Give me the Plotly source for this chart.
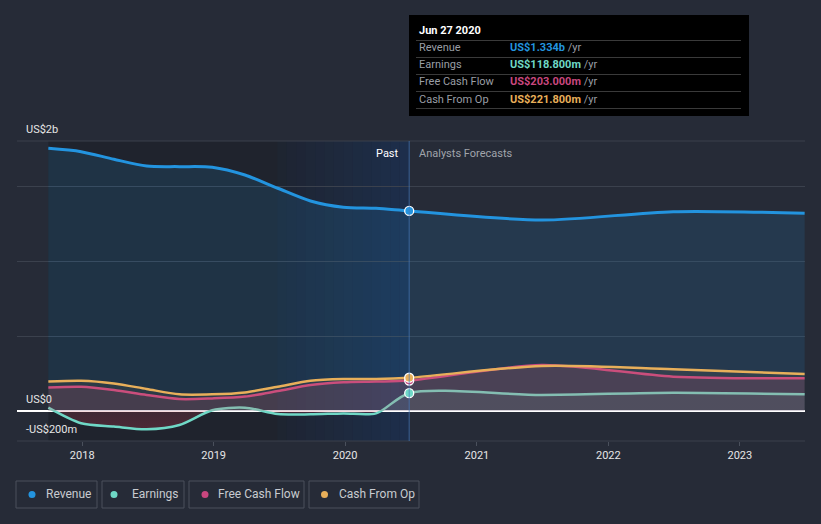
import plotly.graph_objects as go
import pandas as pd

# ---------------- data ----------------
past_dates = ["2017-09-29", "2017-12-29", "2018-03-30", "2018-06-29", "2018-09-28", "2018-12-28",
              "2019-03-29", "2019-06-28", "2019-09-27", "2019-12-27", "2020-03-27", "2020-06-27"]
forecast_dates = ["2020-06-27", "2021-06-30", "2022-06-30", "2023-06-30"]

revenue_past = [1.751, 1.729, 1.678, 1.633, 1.629, 1.625, 1.573, 1.485, 1.400, 1.358, 1.351, 1.334]
revenue_fc = [1.334, 1.273, 1.329, 1.318]
earnings_past = [0.022, -0.082, -0.104, -0.122, -0.093, 0.005, 0.022, -0.020, -0.022, -0.016, -0.016, 0.1188]
earnings_fc = [0.1188, 0.107, 0.122, 0.111]
fcf_past = [0.156, 0.162, 0.140, 0.107, 0.080, 0.084, 0.096, 0.133, 0.173, 0.191, 0.196, 0.203]
fcf_fc = [0.203, 0.307, 0.229, 0.218]
cfo_past = [0.196, 0.202, 0.184, 0.147, 0.111, 0.111, 0.124, 0.162, 0.202, 0.213, 0.213, 0.2218]
cfo_fc = [0.2218, 0.300, 0.278, 0.247]

series_names = ["Revenue", "Earnings", "Free Cash Flow", "Cash From Op"]
series_colors = ["#2394df", "#6fd8c6", "#c9477f", "#e8af5a"]
tooltip_values = ["US$1.334b", "US$118.800m", "US$203.000m", "US$221.800m"]
tooltip_date = "Jun 27 2020"

y_tick_values = [-0.2, 0, 1.8]
y_tick_labels = ["-US$200m", "US$0", "US$2b"]
y_grid_values = [-0.2, 0, 0.5, 1.0, 1.5, 1.8]

highlight_start = "2019-06-27"
x_range = ["2017-07-04", "2023-07-01"]

# ---------------- layout helpers ----------------
W, H = 821, 524
ML, MR, MT, MB = 17, 16, 141, 83
PW, PH = W - ML - MR, H - MT - MB


def px_x(px):
    return (px - ML) / PW


def px_y(py):
    return (H - MB - py) / PH


BG = "#262b37"
GRID = "#3b414d"
FONT = "Roboto"

fig = go.Figure()

all_dates = past_dates + forecast_dates[1:]
series = [
    (revenue_past + revenue_fc[1:], "rgba(35,148,223,0.14)", 3),
    (earnings_past + earnings_fc[1:], None, 2.5),
    (fcf_past + fcf_fc[1:], "rgba(201,71,127,0.16)", 2.5),
    (cfo_past + cfo_fc[1:], "rgba(232,175,90,0.07)", 2.5),
]

for i, (vals, fillc, w) in enumerate(series):
    kw = dict(fill="tozeroy")
    if fillc is None:
        kw["fillgradient"] = dict(
            type="vertical", start=-0.2, stop=0.15,
            colorscale=[[0, "rgba(210,60,80,0.30)"], [0.57, "rgba(210,60,80,0.18)"],
                        [0.58, "rgba(111,216,198,0.10)"], [1, "rgba(111,216,198,0.10)"]])
    else:
        kw["fillcolor"] = fillc
    fig.add_trace(go.Scatter(
        x=all_dates, y=vals, mode="lines", name=series_names[i],
        line=dict(color=series_colors[i], width=w, shape="spline", smoothing=0.8),
        hoverinfo="skip", showlegend=False, **kw))

# markers at the tooltip date
for i, (vals, _, _) in enumerate(series):
    fig.add_trace(go.Scatter(
        x=[past_dates[-1]], y=[vals[len(past_dates) - 1]], mode="markers",
        marker=dict(color=series_colors[i], size=9, line=dict(color="white", width=1.3)),
        hoverinfo="skip", showlegend=False))

shapes = []
# dark past region
shapes.append(dict(type="rect", xref="x", yref="paper", x0=past_dates[0], x1=past_dates[-1],
                   y0=0, y1=1, fillcolor="rgba(0,0,0,0.17)", line=dict(width=0), layer="below"))
# blue gradient for last 12 months
t0 = pd.Timestamp(highlight_start)
t1 = pd.Timestamp(past_dates[-1])
n = 14
for k in range(n):
    a = t0 + (t1 - t0) * k / n
    b = t0 + (t1 - t0) * (k + 1) / n
    shapes.append(dict(type="rect", xref="x", yref="paper", x0=a, x1=b, y0=0, y1=1,
                       fillcolor=f"rgba(25,75,150,{0.04 + 0.26 * (k + 0.5) / n:.3f})",
                       line=dict(width=0), layer="below"))
# top / bottom grid lines at the range edges
for yv in (0, 1):
    shapes.append(dict(type="line", xref="paper", yref="paper", x0=0, x1=1, y0=yv, y1=yv,
                       line=dict(color=GRID, width=1), layer="below"))
# vertical line at the present
shapes.append(dict(type="line", xref="x", yref="paper", x0=past_dates[-1], x1=past_dates[-1],
                   y0=0, y1=1, line=dict(color="rgba(70,120,190,0.7)", width=1)))

# tooltip box
shapes.append(dict(type="rect", xref="paper", yref="paper", x0=px_x(409), x1=px_x(749),
                   y0=px_y(116), y1=px_y(15), fillcolor="#000000", line=dict(width=0), layer="above"))
for sy in [40.5, 57.5, 74.5, 91.5, 108.5]:
    shapes.append(dict(type="line", xref="paper", yref="paper", x0=px_x(416), x1=px_x(741),
                       y0=px_y(sy), y1=px_y(sy), line=dict(color="#3a3a3a", width=1), layer="above"))

# legend boxes
leg_boxes = [(16, 97), (102, 184), (189, 304), (309, 419)]
leg_dot_x = [32, 114, 205, 324.5]
leg_text_x = [44, 130, 216, 337]
for (x0, x1), dx, c in zip(leg_boxes, leg_dot_x, series_colors):
    shapes.append(dict(type="rect", xref="paper", yref="paper", x0=px_x(x0), x1=px_x(x1),
                       y0=px_y(508), y1=px_y(481), line=dict(color="#4a505c", width=1),
                       fillcolor="rgba(0,0,0,0)"))
    shapes.append(dict(type="circle", xref="paper", yref="paper", x0=px_x(dx - 3.5), x1=px_x(dx + 3.5),
                       y0=px_y(498), y1=px_y(491), fillcolor=c, line=dict(width=0)))

annotations = []
for v, lab in zip(y_tick_values, y_tick_labels):
    annotations.append(dict(xref="paper", yref="y", x=px_x(24), y=v, text=lab, showarrow=False,
                            xanchor="left", yanchor="middle", yshift=12,
                            font=dict(color="#e6e6e6", size=11, family=FONT)))

annotations.append(dict(xref="paper", yref="paper", x=px_x(401), y=px_y(153), text="Past",
                        showarrow=False, xanchor="right", yanchor="middle",
                        font=dict(color="#ffffff", size=11, family=FONT)))
annotations.append(dict(xref="paper", yref="paper", x=px_x(417), y=px_y(153), text="Analysts Forecasts",
                        showarrow=False, xanchor="left", yanchor="middle",
                        font=dict(color="#a0a4ab", size=11, family=FONT)))

annotations.append(dict(xref="paper", yref="paper", x=px_x(417), y=px_y(31), text="<b>" + tooltip_date + "</b>",
                        showarrow=False, xanchor="left", yanchor="middle",
                        font=dict(color="#ffffff", size=11, family=FONT)))
for i, ry in enumerate([48, 65, 82, 99]):
    annotations.append(dict(xref="paper", yref="paper", x=px_x(417), y=px_y(ry), text=series_names[i],
                            showarrow=False, xanchor="left", yanchor="middle",
                            font=dict(color="#9a9ea5", size=11, family=FONT)))
    annotations.append(dict(xref="paper", yref="paper", x=px_x(508), y=px_y(ry),
                            text=f"<b><span style='color:{series_colors[i]}'>{tooltip_values[i]}</span></b>"
                                 f"<span style='color:#9a9ea5'> /yr</span>",
                            showarrow=False, xanchor="left", yanchor="middle",
                            font=dict(color="#9a9ea5", size=11, family=FONT)))

for tx, name in zip(leg_text_x, series_names):
    annotations.append(dict(xref="paper", yref="paper", x=px_x(tx), y=px_y(494.5), text=name,
                            showarrow=False, xanchor="left", yanchor="middle",
                            font=dict(color="#c8cbd0", size=12, family=FONT)))

fig.update_layout(
    width=W, height=H, margin=dict(l=ML, r=MR, t=MT, b=MB),
    paper_bgcolor=BG, plot_bgcolor=BG,
    font=dict(family=FONT, color="#e6e6e6"),
    shapes=shapes, annotations=annotations, showlegend=False, hovermode=False,
    xaxis=dict(type="date", range=x_range, showgrid=False, zeroline=False,
               tickformat="%Y", dtick="M12", tick0="2018-01-01",
               ticks="outside", ticklen=4, tickcolor="#4a505c",
               tickfont=dict(color="#e6e6e6", size=11, family=FONT), showline=False),
    yaxis=dict(range=[-0.2, 1.8], tickvals=y_grid_values, showticklabels=False,
               gridcolor=GRID, gridwidth=1, zeroline=True, zerolinecolor="#ffffff",
               zerolinewidth=1.5, showline=False, fixedrange=True),
)

fig.write_html("out.html", config={"displayModeBar": False},
               post_script="document.body.style.margin='0';document.body.style.overflow='hidden';"
                           "document.body.style.background='" + BG + "';")
